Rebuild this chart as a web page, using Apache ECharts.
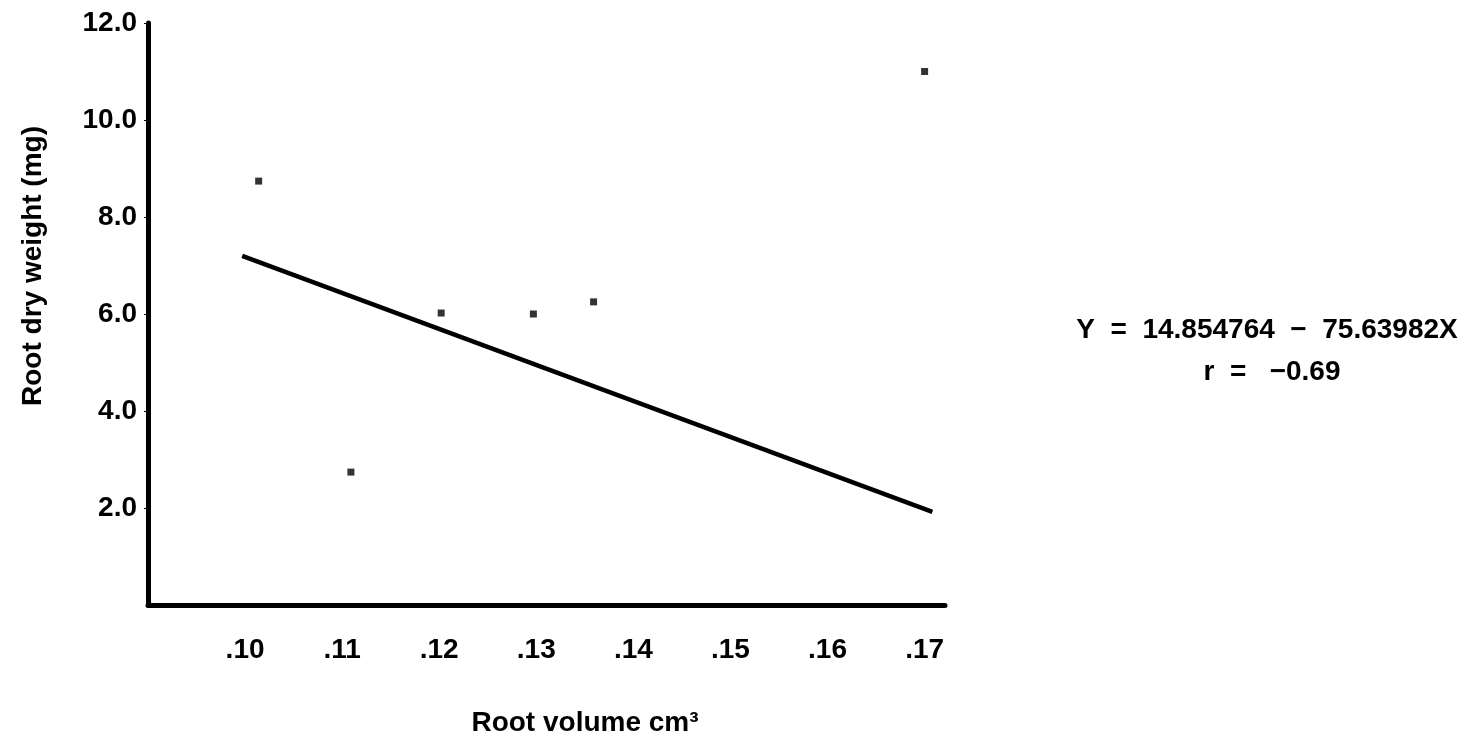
<!DOCTYPE html>
<html>
<head>
<meta charset="utf-8">
<script src="https://cdn.jsdelivr.net/npm/echarts@6/dist/echarts.min.js"></script>
<style>
  html, body { margin: 0; padding: 0; background: #fff; }
  #chart { width: 1478px; height: 741px; }
</style>
</head>
<body>
<div id="chart"></div>
<script>
// measured points (root volume cm3, root dry weight mg)
var points = [
  [0.1014, 8.74],
  [0.1109, 2.74],
  [0.1202, 6.02],
  [0.1297, 6.00],
  [0.1359, 6.25],
  [0.1700, 11.0]
];
// fitted line ends, as drawn
var fitLine = [
  [0.0997, 7.20],
  [0.1708, 1.92]
];
var xTicks = [0.10, 0.11, 0.12, 0.13, 0.14, 0.15, 0.16, 0.17];
var yTicks = [2, 4, 6, 8, 10, 12];
var xTitle = 'Root volume cm\u00b3';
var yTitle = 'Root dry weight (mg)';
var equationTxt = 'Y  =  14.854764  \u2212  75.63982X';
var rTxt = 'r  =   \u22120.69';

var FONT = '"Liberation Sans", Arial, sans-serif';
var dom = document.getElementById('chart');
var myChart = echarts.init(dom);

var option = {
  backgroundColor: '#fff',
  animation: false,
  grid: {
    left: 148,
    right: 533,
    top: 23,
    bottom: 136,
    outerBoundsMode: 'none'
  },
  xAxis: {
    type: 'value',
    min: 0.09,
    max: 0.1721,
    interval: 0.01,
    splitLine: { show: false },
    axisTick: { show: false },
    axisLine: { lineStyle: { color: '#000', width: 5 } },
    axisLabel: {
      customValues: xTicks,
      margin: 31,
      color: '#000',
      fontFamily: FONT,
      fontWeight: 'bold',
      fontSize: 28,
      formatter: function (v) {
        return v.toFixed(2).replace(/^0/, '');
      }
    }
  },
  yAxis: {
    type: 'value',
    min: 0,
    max: 12,
    interval: 2,
    splitLine: { show: false },
    axisLine: { lineStyle: { color: '#000', width: 5 } },
    axisTick: {
      customValues: yTicks,
      length: 4,
      lineStyle: { color: '#000', width: 1 }
    },
    axisLabel: {
      customValues: yTicks,
      margin: 11,
      color: '#000',
      fontFamily: FONT,
      fontWeight: 'bold',
      fontSize: 28,
      formatter: function (v) {
        return v.toFixed(1);
      }
    }
  },
  graphic: [
    {
      type: 'text',
      x: 585,
      y: 723,
      style: {
        text: xTitle,
        fill: '#000',
        font: 'bold 28px ' + FONT,
        align: 'center',
        verticalAlign: 'middle'
      }
    },
    {
      type: 'text',
      x: 33,
      y: 266,
      rotation: Math.PI / 2,
      style: {
        text: yTitle,
        fill: '#000',
        font: 'bold 28px ' + FONT,
        align: 'center',
        verticalAlign: 'middle'
      }
    },
    {
      type: 'text',
      x: 1267,
      y: 330,
      style: {
        text: equationTxt,
        fill: '#000',
        font: 'bold 28px ' + FONT,
        align: 'center',
        verticalAlign: 'middle'
      }
    },
    {
      type: 'text',
      x: 1272,
      y: 372,
      style: {
        text: rTxt,
        fill: '#000',
        font: 'bold 28px ' + FONT,
        align: 'center',
        verticalAlign: 'middle'
      }
    }
  ],
  series: [
    {
      type: 'line',
      data: fitLine,
      showSymbol: false,
      symbol: 'none',
      lineStyle: { color: '#000', width: 4.5 },
      z: 2
    },
    {
      type: 'scatter',
      data: points,
      symbol: 'rect',
      symbolSize: 7,
      itemStyle: { color: '#000' },
      z: 3
    }
  ]
};

myChart.setOption(option, true);
window.onresize = myChart.resize;
</script>
</body>
</html>
